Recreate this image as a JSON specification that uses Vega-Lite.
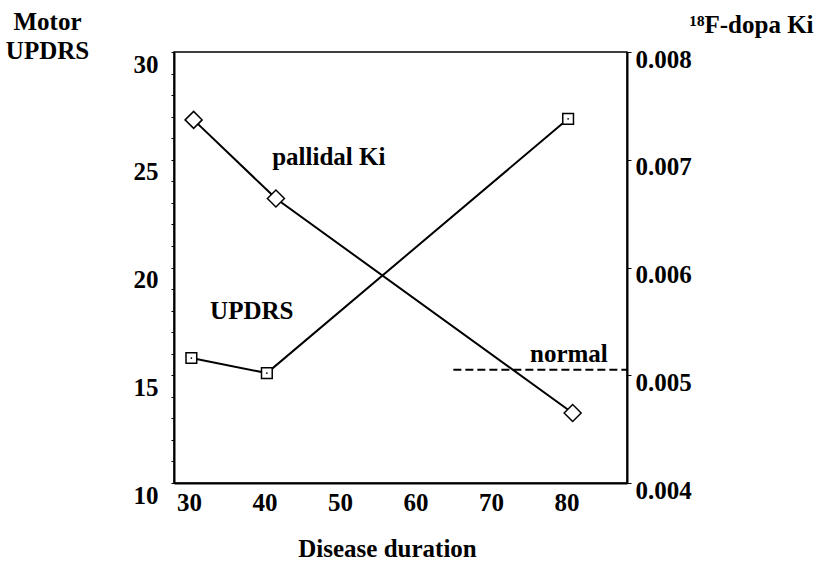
{
  "$schema": "https://vega.github.io/schema/vega-lite/v6.json",
  "width": 453,
  "height": 431,
  "autosize": {"type": "none"},
  "padding": {"left": 174, "top": 52, "right": 190, "bottom": 80},
  "background": "white",
  "config": {
    "view": {"stroke": "black", "strokeWidth": 1.5},
    "font": "Liberation Serif",
    "axis": {
      "labelFont": "Liberation Serif",
      "labelFontWeight": "bold",
      "labelFontSize": 25,
      "labelColor": "black",
      "titleFont": "Liberation Serif",
      "titleFontWeight": "bold",
      "titleFontSize": 25,
      "titleColor": "black",
      "domainColor": "black",
      "domainWidth": 2,
      "tickColor": "black",
      "grid": false,
      "labelFlush": false,
      "labelOverlap": false
    }
  },
  "layer": [
    {
      "encoding": {
        "x": {
          "field": "duration",
          "type": "quantitative",
          "scale": {"domain": [28, 88], "nice": false, "zero": false},
          "axis": {
            "values": [30, 40, 50, 60, 70, 80],
            "ticks": false,
            "tickSize": 0,
            "labelBaseline": "middle",
            "labelPadding": 19,
            "title": "Disease duration",
            "titleAlign": "center",
            "titleBaseline": "middle",
            "titleX": 213,
            "titleY": 65
          }
        },
        "y": {
          "field": "v",
          "type": "quantitative",
          "scale": {"domain": [10, 30], "nice": false, "zero": false},
          "axis": {
            "orient": "left",
            "values": [10, 11, 12, 13, 14, 15, 16, 17, 18, 19, 20, 21, 22, 23, 24, 25, 26, 27, 28, 29, 30],
            "labelExpr": "datum.value % 5 === 0 ? datum.label : ''",
            "tickSize": 3,
            "labelPadding": 13,
            "labelBaseline": "middle",
            "labelOffset": 12,
            "title": ["Motor", "UPDRS"],
            "titleAngle": 0,
            "titleAlign": "center",
            "titleBaseline": "top",
            "titleLineHeight": 29,
            "titleX": -127,
            "titleY": -43
          }
        }
      },
      "layer": [
        {
          "data": {"values": [
            {"duration": 30.3, "v": 15.8},
            {"duration": 40.3, "v": 15.1},
            {"duration": 80.2, "v": 26.9}
          ]},
          "mark": {"type": "line", "color": "black", "strokeWidth": 2}
        },
        {
          "data": {"values": [
            {"duration": 30.3, "v": 15.8},
            {"duration": 40.3, "v": 15.1},
            {"duration": 80.2, "v": 26.9}
          ]},
          "mark": {"type": "point", "shape": "square", "size": 115, "filled": true, "fill": "white", "stroke": "black", "strokeWidth": 1.5, "opacity": 1}
        },
        {
          "data": {"values": [
            {"duration": 30.3, "v": 15.8},
            {"duration": 40.3, "v": 15.1},
            {"duration": 80.2, "v": 26.9}
          ]},
          "mark": {"type": "point", "shape": "circle", "size": 3, "filled": true, "color": "black", "opacity": 1}
        },
        {
          "data": {"values": [
            {"duration": 48.5, "v": 25.13, "label": "pallidal Ki"},
            {"duration": 38.3, "v": 17.98, "label": "UPDRS"},
            {"duration": 80.3, "v": 16.0, "label": "normal"}
          ]},
          "mark": {"type": "text", "font": "Liberation Serif", "fontWeight": "bold", "fontSize": 25, "color": "black", "align": "center", "baseline": "middle"},
          "encoding": {"text": {"field": "label"}}
        }
      ]
    },
    {
      "encoding": {
        "x": {
          "field": "duration",
          "type": "quantitative",
          "scale": {"domain": [28, 88], "nice": false, "zero": false},
          "axis": {
            "values": [30, 40, 50, 60, 70, 80],
            "ticks": false,
            "tickSize": 0,
            "labelBaseline": "middle",
            "labelPadding": 19,
            "title": "Disease duration",
            "titleAlign": "center",
            "titleBaseline": "middle",
            "titleX": 213,
            "titleY": 65
          }
        },
        "y": {
          "field": "v",
          "type": "quantitative",
          "scale": {"domain": [0.004, 0.008], "nice": false, "zero": false},
          "axis": {
            "orient": "right",
            "values": [0.004, 0.005, 0.006, 0.007, 0.008],
            "format": ".3f",
            "tickSize": 4,
            "labelPadding": 4,
            "labelBaseline": "middle",
            "labelOffset": 7,
            "title": "¹⁸F-dopa Ki",
            "titleAngle": 0,
            "titleAlign": "center",
            "titleBaseline": "middle",
            "titleX": 124,
            "titleY": -28
          }
        }
      },
      "layer": [
        {
          "data": {"values": [
            {"duration": 30.6, "v": 0.00737},
            {"duration": 41.5, "v": 0.00664},
            {"duration": 80.8, "v": 0.00465}
          ]},
          "mark": {"type": "line", "color": "black", "strokeWidth": 2}
        },
        {
          "data": {"values": [
            {"duration": 30.6, "v": 0.00737},
            {"duration": 41.5, "v": 0.00664},
            {"duration": 80.8, "v": 0.00465}
          ]},
          "mark": {"type": "point", "shape": "diamond", "size": 290, "filled": true, "fill": "white", "stroke": "black", "strokeWidth": 1.5, "opacity": 1}
        },
        {
          "data": {"values": [
            {"duration": 65, "duration2": 88, "v": 0.00505}
          ]},
          "mark": {"type": "rule", "color": "black", "strokeWidth": 2, "strokeDash": [8, 4]},
          "encoding": {"x2": {"field": "duration2"}}
        }
      ]
    }
  ],
  "resolve": {"scale": {"y": "independent"}}
}
